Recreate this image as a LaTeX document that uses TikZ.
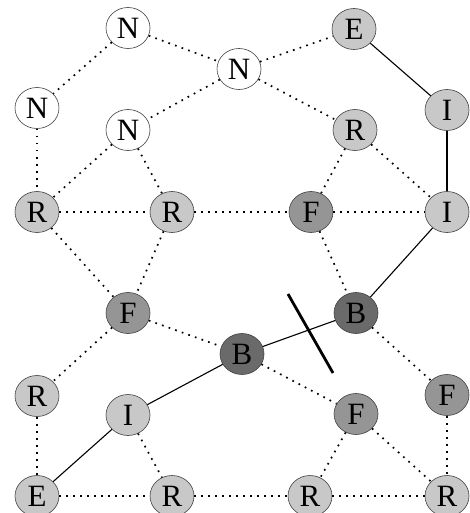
\documentclass[tikz,border=0pt]{standalone}
\usepackage{fontspec}
\setmainfont{Liberation Serif}
\usetikzlibrary{shapes.geometric}
\definecolor{lightg}{HTML}{C8C8C8}
\definecolor{midg}{HTML}{959595}
\definecolor{darkg}{HTML}{6A6A6A}
\tikzset{
  vtx/.style={ellipse, draw=black!75, line width=0.6pt, minimum width=44pt, minimum height=41pt, inner sep=0pt, font=\fontsize{31}{31}\selectfont},
  wn/.style={vtx, fill=white},
  lg/.style={vtx, fill=lightg},
  mg/.style={vtx, fill=midg},
  dg/.style={vtx, fill=darkg},
  dotl/.style={line width=1.7pt, dash pattern=on 1.7pt off 5.3pt},
  sol/.style={line width=1.1pt},
}
\begin{document}
\begin{tikzpicture}[x=1pt,y=-1pt]
\useasboundingbox (0,0) rectangle (469,513);
\node[wn] (N1) at (128,28) {N};
\node[wn] (N2) at (239,69) {N};
\node[lg] (E1) at (354,29) {E};
\node[wn] (N3) at (37,108) {N};
\node[wn] (N4) at (128,130) {N};
\node[lg] (I1) at (447,110) {I};
\node[lg] (R1) at (355,130) {R};
\node[lg] (R2) at (37,212) {R};
\node[lg] (R3) at (172,212) {R};
\node[mg] (F1) at (311,212) {F};
\node[lg] (I2) at (447,212) {I};
\node[mg] (F2) at (128,313) {F};
\node[dg] (B1) at (356,313) {B};
\node[dg] (B2) at (242,354) {B};
\node[lg] (R4) at (37,396) {R};
\node[lg] (I3) at (128,415) {I};
\node[mg] (F3) at (447,395) {F};
\node[mg] (F4) at (356,414) {F};
\node[lg] (E2) at (37,496) {E};
\node[lg] (R5) at (172,496) {R};
\node[lg] (R6) at (310,496) {R};
\node[lg] (R7) at (447,496) {R};
\foreach \a/\b in {N1/N3,N1/N2,N2/E1,N2/N4,N2/R1,N3/R2,N4/R2,N4/R3,R2/R3,R3/F1,F1/I2,R1/F1,R1/I2,R2/F2,R3/F2,F1/B1,F2/B2,F2/R4,R4/E2,I3/R5,E2/R5,R5/R6,R6/R7,B2/F4,B1/F3,F3/R7,F4/R6,F4/R7}
  \draw[dotl] (\a) -- (\b);
\foreach \a/\b in {E1/I1,I1/I2,I2/B1,B1/B2,B2/I3,I3/E2}
  \draw[sol] (\a) -- (\b);
\coordinate (c1) at (288,294);
\coordinate (c2) at (333,373);
\draw[line width=2.8pt] (c1) -- (c2);
\end{tikzpicture}
\end{document}
